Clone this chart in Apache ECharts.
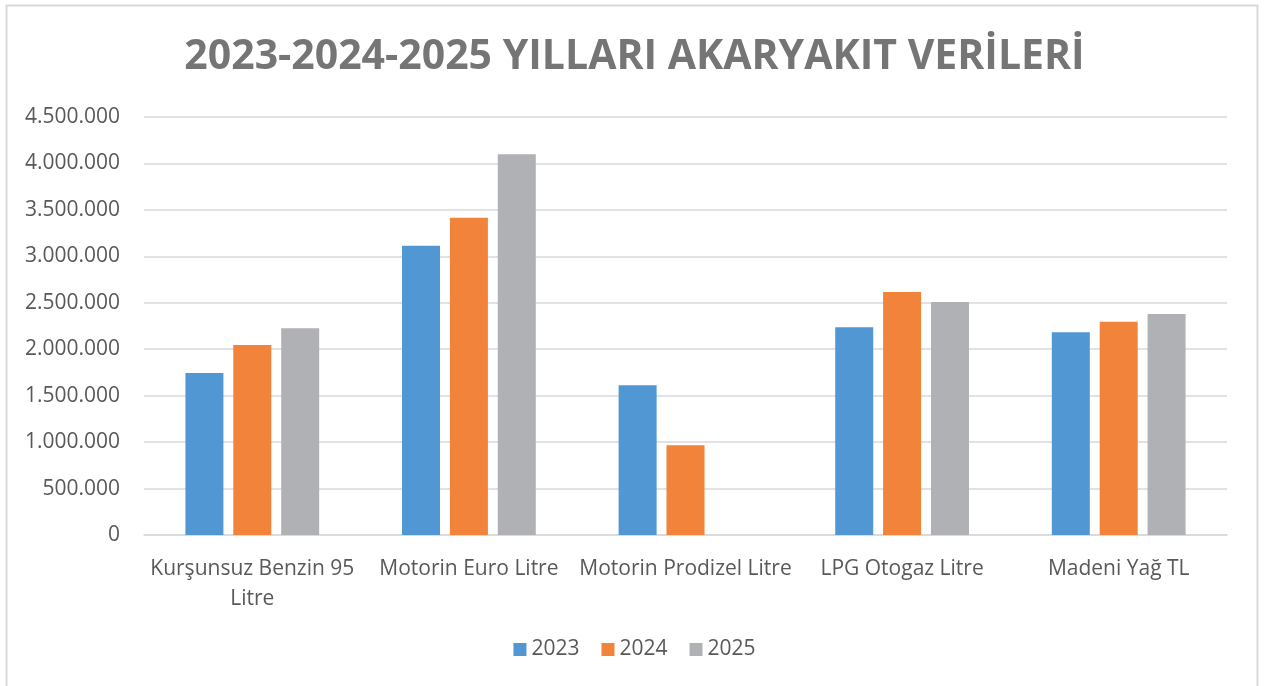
<!DOCTYPE html>
<html>
<head>
<meta charset="utf-8">
<script src="https://cdn.jsdelivr.net/npm/echarts@6/dist/echarts.min.js"></script>
<style>
  html, body { margin: 0; padding: 0; background: #fff; }
  #chart { width: 1269px; height: 686px; }
</style>
</head>
<body>
<div id="chart"></div>
<script>
// Fuel sales by product, three years
const titleText = '2023-2024-2025 YILLARI AKARYAKIT VERİLERİ';
const categories = ['Kurşunsuz Benzin 95 Litre', 'Motorin Euro Litre', 'Motorin Prodizel Litre', 'LPG Otogaz Litre', 'Madeni Yağ TL'];
const years = ['2023', '2024', '2025'];
const values2023 = [1745000, 3115000, 1612000, 2236000, 2182000];
const values2024 = [2045000, 3416000, 966000, 2616000, 2297000];
const values2025 = [2226000, 4099000, null, 2509000, 2379000];
const colors = ['#5097D3', '#F1833B', '#B0B1B4'];

const FONT = "'Open Sans', sans-serif";
const TEXT = '#595959';

const fmtTR = v => String(v).replace(/\B(?=(\d{3})+(?!\d))/g, '.');

const chart = echarts.init(document.getElementById('chart'), null, { renderer: 'canvas' });
const seriesValues = [values2023, values2024, values2025];

chart.setOption({
  backgroundColor: '#ffffff',
  color: colors,
  animation: false,
  title: {
    text: titleText,
    left: 'center',
    top: 32,
    textStyle: { fontFamily: FONT, fontWeight: 'bold', fontSize: 41, color: '#757575' }
  },
  graphic: [{
    type: 'polyline',
    shape: { points: [[6.5, 686], [6.5, 5.5], [1257.5, 5.5], [1257.5, 686]] },
    style: { stroke: '#d9d9d9', lineWidth: 2, fill: null },
    silent: true
  }],
  legend: {
    data: years,
    bottom: 21,
    left: 'center',
    itemWidth: 13,
    itemHeight: 13,
    itemGap: 22,
    icon: 'rect',
    textStyle: { fontFamily: FONT, fontSize: 21, color: TEXT }
  },
  grid: { left: 144, right: 42, top: 117, bottom: 151, containLabel: false },
  xAxis: {
    type: 'category',
    data: categories,
    axisLine: { show: true, lineStyle: { color: '#d9d9d9', width: 1.5 } },
    axisTick: { show: false },
    axisLabel: {
      fontFamily: FONT, fontSize: 21, color: TEXT, margin: 19, lineHeight: 30,
      interval: 0,
      formatter: v => v === 'Kurşunsuz Benzin 95 Litre' ? 'Kurşunsuz Benzin 95\nLitre' : v
    }
  },
  yAxis: {
    type: 'value',
    min: 0,
    max: 4500000,
    interval: 500000,
    axisLine: { show: false },
    axisTick: { show: false },
    splitLine: { lineStyle: { color: '#d9d9d9', width: 1.5 } },
    axisLabel: { fontFamily: FONT, fontSize: 21, color: TEXT, margin: 24, formatter: fmtTR }
  },
  series: years.map((y, i) => ({
    name: y,
    type: 'bar',
    data: seriesValues[i],
    barWidth: 38,
    barGap: '26%',
    itemStyle: { color: colors[i] }
  }))
});
</script>
</body>
</html>
